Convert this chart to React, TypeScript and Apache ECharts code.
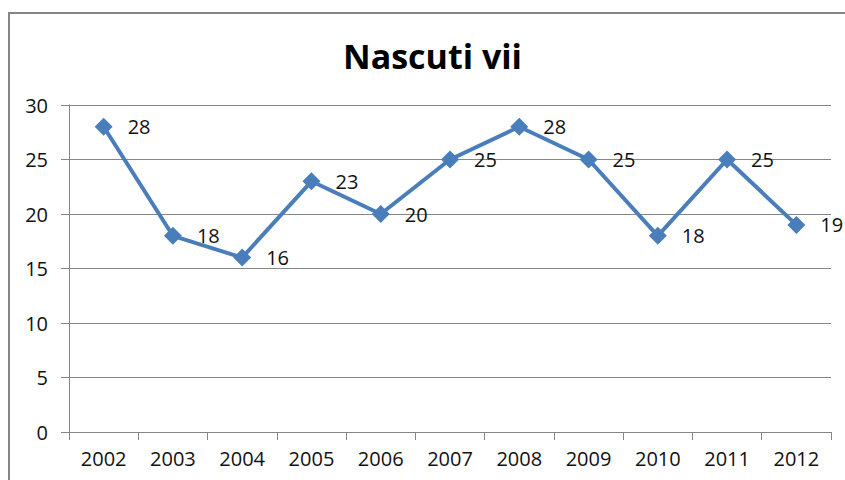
import React, { useEffect, useRef } from "react";
import * as echarts from "echarts";

const years = ["2002", "2003", "2004", "2005", "2006", "2007", "2008", "2009", "2010", "2011", "2012"];
const births = [28, 18, 16, 23, 20, 25, 28, 25, 18, 25, 19];
const titleText = "Nascuti vii";
const yMin = 0;
const yMax = 30;
const yStep = 5;

export default function App() {
  const ref = useRef<HTMLDivElement>(null);
  useEffect(() => {
    document.body.style.margin = "0";
    const chart = echarts.init(ref.current!, undefined, { renderer: "svg" });
    const font = "'Open Sans', sans-serif";
    const gray = "#868686";
    const textColor = "#111";
    chart.setOption({
      animation: false,
      backgroundColor: "#ffffff",
      grid: { left: 69, right: 14, top: 105, bottom: 48, containLabel: false },
      graphic: [
        {
          type: "rect",
          shape: { x: 9, y: 13, width: 900, height: 600 },
          style: { fill: "none", stroke: gray, lineWidth: 2 },
          silent: true,
        },
        {
          type: "text",
          x: 432.5,
          y: 56,
          style: {
            text: titleText,
            font: `bold 34px ${font}`,
            fill: "#000",
            align: "center",
            verticalAlign: "middle",
          },
        },
      ],
      xAxis: {
        type: "category",
        data: years,
        boundaryGap: true,
        axisLine: { lineStyle: { color: gray, width: 1 } },
        axisTick: { show: true, length: 8, lineStyle: { color: gray } },
        axisLabel: { color: textColor, fontFamily: font, fontSize: 20, margin: 16 },
      },
      yAxis: {
        type: "value",
        min: yMin,
        max: yMax,
        interval: yStep,
        axisLine: { show: true, lineStyle: { color: gray, width: 1 } },
        axisTick: { show: true, length: 8, lineStyle: { color: gray } },
        splitLine: { lineStyle: { color: gray, width: 1 } },
        axisLabel: { color: textColor, fontFamily: font, fontSize: 20, margin: 21 },
      },
      series: [
        {
          type: "line",
          data: births,
          symbol: "diamond",
          symbolSize: 18,
          itemStyle: { color: "#4A7EBB" },
          lineStyle: { color: "#4A7EBB", width: 4 },
          label: {
            show: true,
            position: "right",
            distance: 15,
            color: textColor,
            fontFamily: font,
            fontSize: 20,
          },
        },
      ],
    });
    return () => chart.dispose();
  }, []);
  return <div ref={ref} style={{ position: "absolute", left: 0, top: 0, width: 845, height: 480 }} />;
}
